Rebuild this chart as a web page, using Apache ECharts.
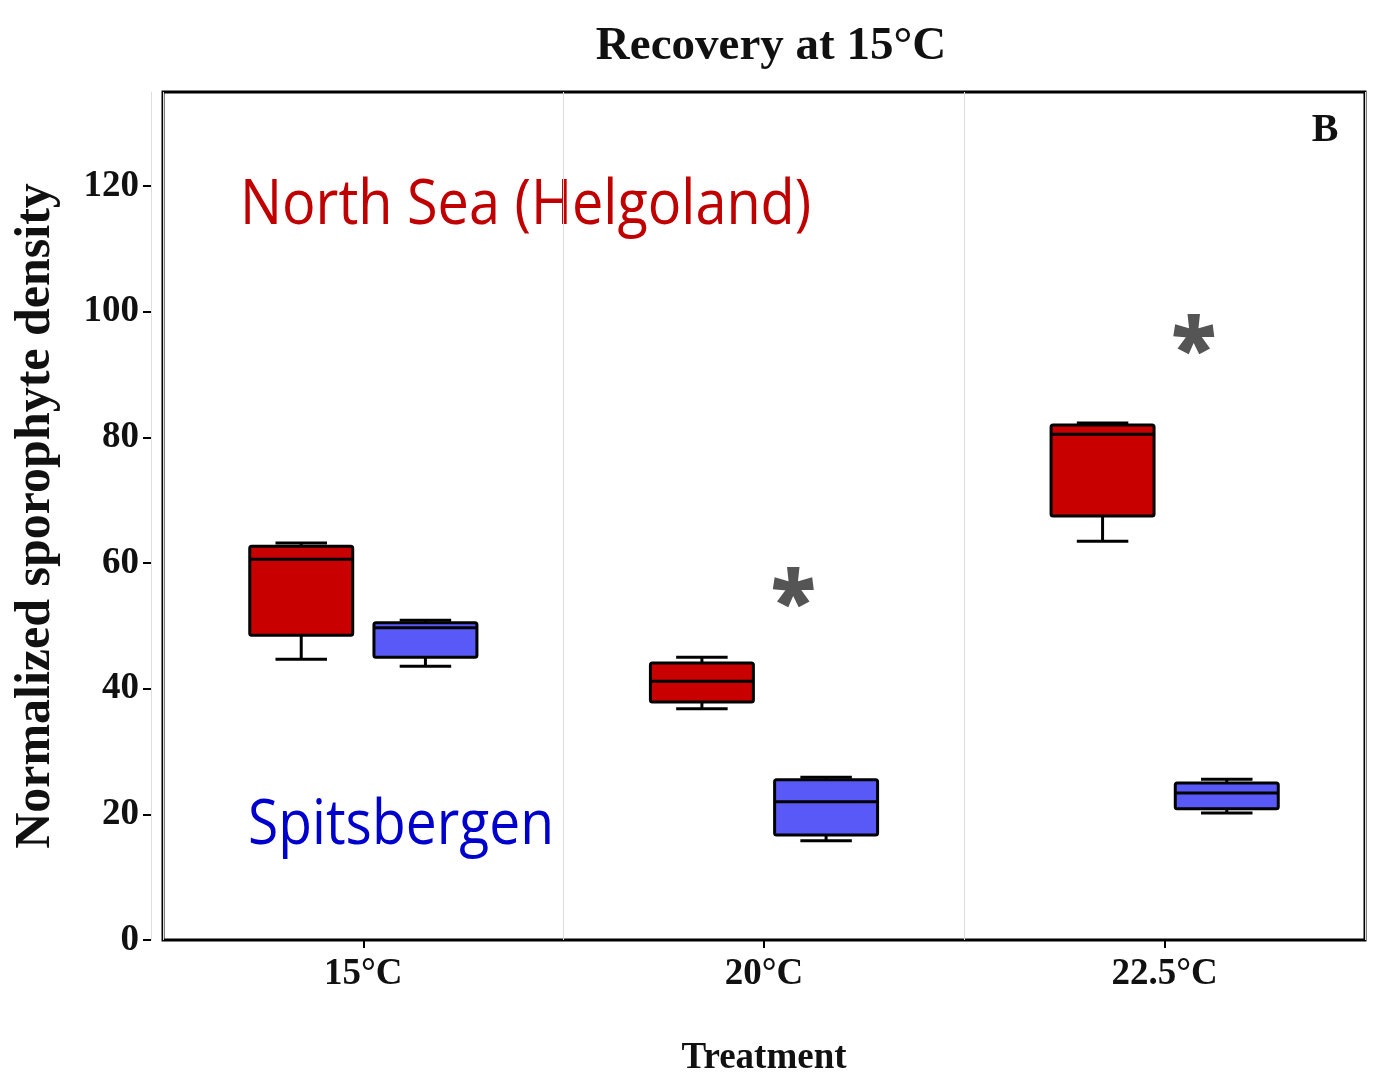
<!DOCTYPE html>
<html>
<head>
<meta charset="utf-8">
<title>Recovery at 15°C</title>
<script src="https://cdn.jsdelivr.net/npm/echarts@6/dist/echarts.min.js"></script>
<style>
  html, body { margin: 0; padding: 0; background: #ffffff; }
  #chart { width: 1383px; height: 1088px; }
</style>
</head>
<body>
<div id="chart"></div>
<script>
// Treatments on the x axis
const categories = ['15°C', '20°C', '22.5°C'];

// Box statistics per treatment: [min, Q1, median, Q3, max]
const northSeaStats = [
  [44.7, 48.5, 60.6, 62.7, 63.2],
  [36.8, 37.9, 41.2, 44.1, 45.0],
  [63.5, 67.5, 80.5, 82.0, 82.3]
];
const spitsbergenStats = [
  [43.6, 45.0, 49.7, 50.5, 50.9],
  [15.8, 16.7, 22.0, 25.5, 25.9],
  [20.2, 20.9, 23.4, 25.0, 25.6]
];

// Significant differences between populations: [treatment index, height]
const significance = [
  [1, 55.7],
  [2, 96.0]
];

// Y axis
const yTicks = [0, 20, 40, 60, 80, 100, 120];
const yMax = 135;

const SERIF = '"Liberation Serif", "Times New Roman", serif';
const SANS = '"Open Sans", "Noto Sans", sans-serif';

const BOX_FRAC = 0.257;   // box width as a share of the category band
const SHIFT = 0.155;      // distance of each box from the band centre

function boxRenderer(shift, fill) {
  return function (params, api) {
    const cat = api.value(0);
    const band = api.size([1, 0])[0];
    const cx = api.coord([cat, 0])[0] + shift * band;
    const w = band * BOX_FRAC;
    const cap = w / 2;
    const y = (k) => api.coord([cat, api.value(k)])[1];
    const yMin = y(1), yQ1 = y(2), yMed = y(3), yQ3 = y(4), yMaxV = y(5);
    const line = { stroke: '#000', lineWidth: 3, lineCap: 'butt' };
    return {
      type: 'group',
      children: [
        { type: 'line', shape: { x1: cx, y1: yQ1, x2: cx, y2: yMin }, style: line },
        { type: 'line', shape: { x1: cx, y1: yQ3, x2: cx, y2: yMaxV }, style: line },
        { type: 'line', shape: { x1: cx - cap / 2, y1: yMin, x2: cx + cap / 2, y2: yMin }, style: line },
        { type: 'line', shape: { x1: cx - cap / 2, y1: yMaxV, x2: cx + cap / 2, y2: yMaxV }, style: line },
        {
          type: 'rect',
          shape: { x: cx - w / 2, y: yQ3, width: w, height: yQ1 - yQ3, r: 2 },
          style: { fill: fill, stroke: '#000', lineWidth: 3, lineJoin: 'round' }
        },
        { type: 'line', shape: { x1: cx - w / 2, y1: yMed, x2: cx + w / 2, y2: yMed }, style: line }
      ]
    };
  };
}

// Asterisk placed beside the group; the glyph sits high in its em box,
// so it is nudged down to centre it on the value.
function starRenderer(params, api) {
  const cat = api.value(0);
  const band = api.size([1, 0])[0];
  const p = api.coord([cat, api.value(1)]);
  return {
    type: 'text',
    x: p[0] + band * 0.073,
    y: p[1] + 16,
    style: {
      text: '*',
      fill: '#555555',
      font: 'bold 80px ' + SANS,
      align: 'center',
      verticalAlign: 'middle',
      stroke: '#555555',
      lineWidth: 2
    }
  };
}

const chart = echarts.init(document.getElementById('chart'), null, { renderer: 'canvas' });

chart.setOption({
  backgroundColor: '#ffffff',
  animation: false,
  title: {
    text: 'Recovery at 15°C',
    left: 766,
    top: 18,
    textAlign: 'center',
    textStyle: { fontFamily: SERIF, fontWeight: 'bold', fontSize: 47, color: '#111' }
  },
  grid: {
    left: 163, right: 18, top: 92, bottom: 148,
    show: true, borderColor: '#000', borderWidth: 3, backgroundColor: 'transparent'
  },
  xAxis: {
    type: 'category',
    data: categories,
    axisLine: { show: false },
    axisTick: { show: true, alignWithLabel: true, length: 8, lineStyle: { color: '#000', width: 2 } },
    axisLabel: { fontFamily: SERIF, fontWeight: 'bold', fontSize: 37, color: '#111', margin: 16 },
    splitLine: { show: true, lineStyle: { color: '#dcdcdc', width: 1 } },
    name: 'Treatment',
    nameLocation: 'middle',
    nameGap: 100,
    nameTextStyle: { fontFamily: SERIF, fontWeight: 'bold', fontSize: 37, color: '#111' }
  },
  yAxis: {
    type: 'value',
    min: 0,
    max: yMax,
    interval: 20,
    offset: 12,
    axisLine: { show: true, lineStyle: { color: '#dedede', width: 1 } },
    axisTick: { show: true, length: 8, customValues: yTicks, lineStyle: { color: '#000', width: 2 } },
    axisLabel: {
      customValues: yTicks,
      fontFamily: SERIF, fontWeight: 'bold', fontSize: 37, color: '#111', margin: 12
    },
    splitLine: { show: false },
    name: 'Normalized sporophyte density',
    nameLocation: 'middle',
    nameGap: 90,
    nameTextStyle: { fontFamily: SERIF, fontWeight: 'bold', fontSize: 50, color: '#111' }
  },
  graphic: [
    {
      type: 'text', x: 1325, y: 131,
      style: { text: 'B', font: 'bold 40px ' + SERIF, fill: '#111', align: 'center', verticalAlign: 'middle' }
    },
    {
      type: 'text', x: 240, y: 206, scaleX: 0.9,
      style: { text: 'North Sea (Helgoland)', font: '62px ' + SANS, fill: '#C00000', align: 'left', verticalAlign: 'middle' }
    },
    {
      type: 'text', x: 248, y: 826, scaleX: 0.89,
      style: { text: 'Spitsbergen', font: '62px ' + SANS, fill: '#0000CC', align: 'left', verticalAlign: 'middle' }
    }
  ],
  series: [
    {
      name: 'North Sea (Helgoland)',
      type: 'custom',
      renderItem: boxRenderer(-SHIFT, '#C80000'),
      data: northSeaStats.map((s, i) => [i].concat(s)),
      encode: { x: 0, y: [1, 2, 3, 4, 5] },
      z: 3
    },
    {
      name: 'Spitsbergen',
      type: 'custom',
      renderItem: boxRenderer(SHIFT, '#5959F7'),
      data: spitsbergenStats.map((s, i) => [i].concat(s)),
      encode: { x: 0, y: [1, 2, 3, 4, 5] },
      z: 3
    },
    {
      name: 'significance',
      type: 'custom',
      renderItem: starRenderer,
      data: significance,
      encode: { x: 0, y: 1 },
      z: 4
    }
  ]
});
</script>
</body>
</html>
